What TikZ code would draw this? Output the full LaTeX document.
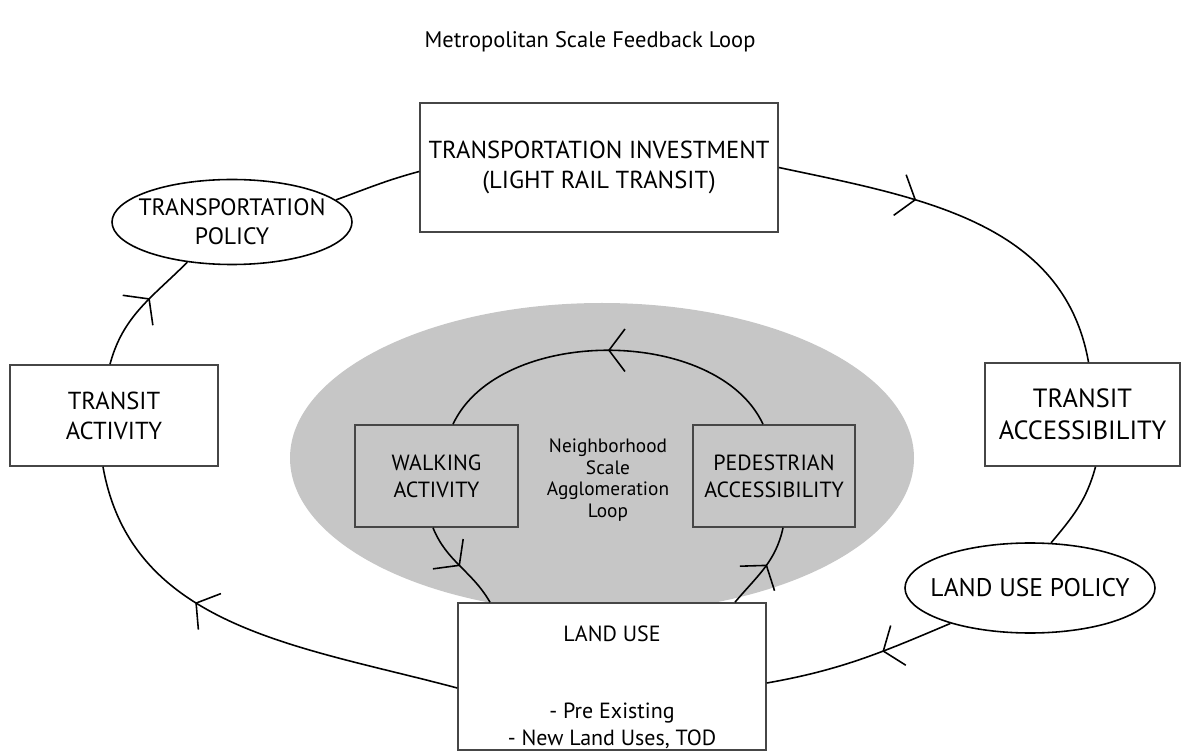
\documentclass[tikz,border=0pt]{standalone}
\usepackage{fontspec}
\setmainfont{PT Sans}
\usetikzlibrary{arrows.meta,shapes.geometric,decorations.markings}
\definecolor{hoodgray}{RGB}{198,198,198}
\definecolor{edgegray}{RGB}{70,70,70}
\begin{document}
\begin{tikzpicture}[
    box/.style={draw=edgegray, line width=0.9pt, fill=white, align=center, font=\fontsize{14}{17}\selectfont, inner sep=0pt},
    oval/.style={ellipse, draw=black, line width=0.9pt, fill=white, align=center, font=\fontsize{14.5}{17}\selectfont, inner xsep=-1.2cm, inner ysep=-0.3cm},
    gbox/.style={box, fill=hoodgray, font=\fontsize{12.5}{15.5}\selectfont},
    link/.style={line width=0.9pt, black},
    barb/.style={postaction={decorate}, decoration={markings, mark=at position #1 with {\arrow{Straight Barb[length=3.2mm,width=8.5mm,line width=0.9pt]}}}},
    lbl/.style={font=\fontsize{12.8}{15}\selectfont},
  ]
    \useasboundingbox (0,0) rectangle (23.7,-15.02);

    % title
    \node[lbl] (title) at (11.8,-0.84) {Metropolitan Scale Feedback Loop};

    % === neighborhood patch (drawn first, land use box covers it) ===
    \node[ellipse, fill=hoodgray, minimum width=12.48cm, minimum height=6.2cm] (hood) at (12.04,-9.16) {};

    % === metropolitan loop nodes ===
    \node[box, minimum width=7.16cm, minimum height=2.58cm] (invest) at (11.98,-3.35)
      {TRANSPORTATION INVESTMENT\\(LIGHT RAIL TRANSIT)};
    \node[oval, minimum width=4.8cm, minimum height=1.7cm, font=\fontsize{13.5}{16.5}\selectfont] (tpol) at (4.64,-4.44)
      {TRANSPORTATION\\POLICY};
    \node[box, minimum width=4.16cm, minimum height=2.02cm] (tact) at (2.28,-8.31)
      {TRANSIT\\ACTIVITY};
    \node[box, minimum width=3.9cm, minimum height=2.06cm, font=\fontsize{15}{18}\selectfont] (tacc) at (21.65,-8.29)
      {TRANSIT\\ACCESSIBILITY};
    \node[oval, minimum width=5.0cm, minimum height=1.8cm] (lupol) at (20.6,-11.76)
      {LAND USE POLICY};
    \node[box, minimum width=6.16cm, minimum height=2.94cm, font=\fontsize{12.5}{15.3}\selectfont] (luse) at (12.24,-13.53)
      {\rule{0pt}{0.75cm}LAND USE\\[1.0cm]- Pre Existing\\- New Land Uses, TOD};

    % === neighborhood loop nodes ===
    \node[gbox, minimum width=3.26cm, minimum height=2.04cm] (walk) at (8.73,-9.52)
      {WALKING\\ACTIVITY};
    \node[gbox, minimum width=3.24cm, minimum height=2.04cm] (ped) at (15.48,-9.52)
      {PEDESTRIAN\\ACCESSIBILITY};
    \node[align=center, font=\fontsize{11}{12.3}\selectfont] (hoodlbl) at (12.16,-9.6)
      {Neighborhood\\Scale\\Agglomeration\\Loop};

    % outer loop (clockwise)
    \draw[link, barb=0.36] (invest.east) to[out=-12, in=100] ([xshift=0.12cm]tacc.north);
    \draw[link] ([xshift=0.26cm]tacc.south) to[out=-105, in=50] (lupol.65);
    \draw[link, barb=0.38] (lupol.204) to[out=203, in=10] ([yshift=-0.13cm]luse.east);
    \draw[link, barb=0.62] ([yshift=-0.23cm]luse.west) to[out=165, in=-80] ([xshift=-0.22cm]tact.south);
    \draw[link, barb=0.6] ([xshift=-0.08cm]tact.north) to[out=75, in=225] (tpol.222);
    \draw[link] (tpol.12) to[out=20, in=195] ([yshift=-0.08cm]invest.west);

    % inner loop (counter-clockwise)
    \draw[link, barb=0.5] ([xshift=-0.22cm]ped.north) to[out=115, in=65, looseness=0.9] ([xshift=0.33cm]walk.north);
    \draw[link, barb=0.5] ([xshift=-0.07cm]walk.south) to[out=-68, in=120] ([xshift=-2.44cm]luse.north);
    \draw[link, barb=0.55] ([xshift=2.46cm]luse.north) to[out=50, in=-102] ([xshift=0.18cm]ped.south);
\end{tikzpicture}
\end{document}
